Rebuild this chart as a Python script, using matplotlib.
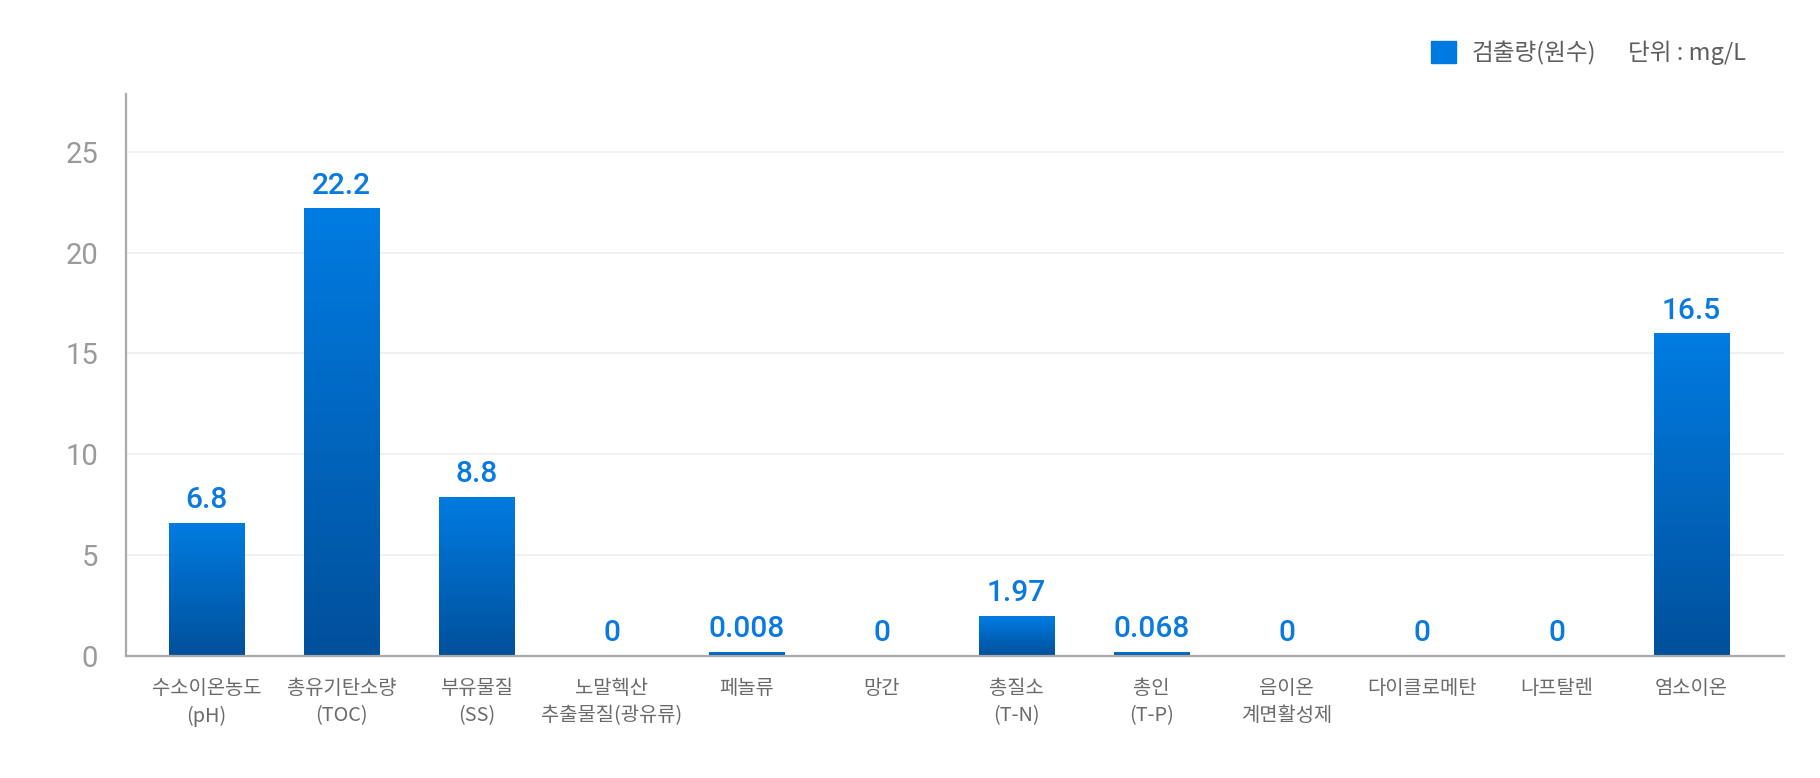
import numpy as np
import matplotlib
matplotlib.use("Agg")
import matplotlib.pyplot as plt
from matplotlib.patches import Patch
from matplotlib.colors import LinearSegmentedColormap

plt.rcParams['font.family'] = ['Noto Sans CJK KR', 'DejaVu Sans']

# ---- data ----
categories = ['수소이온농도\n(pH)', '총유기탄소량\n(TOC)', '부유물질\n(SS)',
              '노말헥산\n추출물질(광유류)', '페놀류', '망간', '총질소\n(T-N)',
              '총인\n(T-P)', '음이온\n계면활성제', '다이클로메탄', '나프탈렌', '염소이온']
bar_values = [6.6, 22.2, 7.9, 0, 0.008, 0, 1.97, 0.068, 0, 0, 0, 16.0]
value_labels = ['6.8', '22.2', '8.8', '0', '0.008', '0', '1.97', '0.068', '0', '0', '0', '16.5']
y_ticks = [0, 5, 10, 15, 20, 25]
series_name = '검출량(원수)'
unit_text = '단위 : mg/L'

# ---- style ----
W, H = 1820, 778
fig = plt.figure(figsize=(W / 100, H / 100), dpi=100)
ax = fig.add_axes([125.7 / W, 1 - 655.7 / H, (1783.7 - 125.7) / W, (655.7 - 94) / H])

top_col = '#007CE2'
bot_col = '#00509B'
label_col = '#0A7AE0'
cmap = LinearSegmentedColormap.from_list('g', [bot_col, top_col])
min_visible = 0.2

x = np.arange(len(categories))
heights = [max(v, min_visible) if v > 0 else 0 for v in bar_values]
bars = ax.bar(x, heights, width=0.556, color='none', edgecolor='none', zorder=3)

grad = np.linspace(0, 1, 256).reshape(-1, 1)
for b, h in zip(bars, heights):
    if h <= 0:
        continue
    x0, w = b.get_x(), b.get_width()
    im = ax.imshow(grad, cmap=cmap, aspect='auto', origin='lower',
                   extent=(x0, x0 + w, 0, h), zorder=3, interpolation='bilinear')
    im.set_clip_path(b)

for xi, h, lab in zip(x, heights, value_labels):
    ax.annotate(lab, (xi, h), xytext=(0, 10.5), textcoords='offset points',
                ha='center', va='baseline', fontsize=21.5, color=label_col,
                fontweight='medium', family=['Roboto', 'DejaVu Sans'], zorder=4)

ax.set_xlim(-0.6, len(categories) - 1 + 0.683)
ax.set_ylim(0, 27.88)
ax.set_yticks(y_ticks)
ax.set_yticklabels([str(t) for t in y_ticks], family=['Roboto', 'DejaVu Sans'],
                   fontsize=21, color='#9a9a9a')
ax.set_xticks(x)
ax.set_xticklabels(categories, fontsize=14.3, color='#6a6a6a', linespacing=1.4)
ax.tick_params(axis='both', length=0)
ax.tick_params(axis='y', pad=20)
ax.tick_params(axis='x', pad=16)

ax.grid(axis='y', color='#eeeeee', linewidth=1.2, zorder=0)
ax.set_axisbelow(True)
for s in ['top', 'right']:
    ax.spines[s].set_visible(False)
for s in ['left', 'bottom']:
    ax.spines[s].set_color('#aaaaaa')
    ax.spines[s].set_linewidth(1.6)
    ax.spines[s].set_zorder(5)

fs_leg = 17
leg = fig.legend(handles=[Patch(color='#0079E0')], labels=[series_name],
                 loc='center left', bbox_to_anchor=(1431 / W, 1 - 53 / H),
                 frameon=False, fontsize=fs_leg, handlelength=1.05, handleheight=1.05,
                 handletextpad=0.65, borderpad=0, borderaxespad=0)
for t in leg.get_texts():
    t.set_color('#5e5e5e')
fig.text(1628 / W, 1 - 53 / H, unit_text, ha='left', va='center',
         fontsize=fs_leg, color='#5e5e5e')

fig.savefig('out.png', dpi=100)
